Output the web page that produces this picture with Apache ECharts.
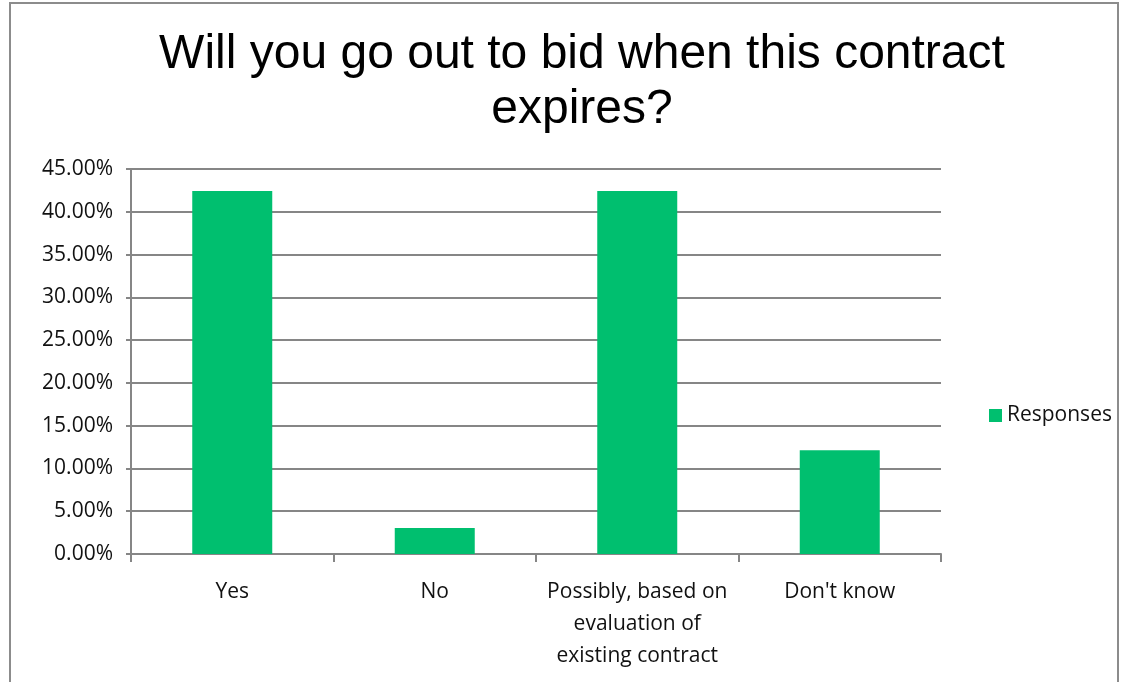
<!DOCTYPE html>
<html>
<head>
<meta charset="utf-8">
<script src="https://cdn.jsdelivr.net/npm/echarts@6/dist/echarts.min.js"></script>
<style>
  html, body { margin: 0; padding: 0; background: #fff; }
  #chart { width: 1127px; height: 682px; }
</style>
</head>
<body>
<div id="chart"></div>
<script>
var myChart = echarts.init(document.getElementById('chart'));

var categories = ['Yes', 'No', 'Possibly, based on\nevaluation of\nexisting contract', "Don't know"];
var responses = [42.42, 3.03, 42.42, 12.12];
var seriesName = 'Responses';

var option = {
    backgroundColor: '#fff',
    animation: false,
    graphic: [{
        type: 'rect',
        shape: { x: 10, y: 3, width: 1108, height: 690 },
        style: { fill: 'none', stroke: '#8c8c8c', lineWidth: 2 },
        silent: true
    }],
    title: {
        text: 'Will you go out to bid when this contract\nexpires?',
        left: 577,
        top: 22,
        textAlign: 'center',
        textStyle: {
            fontFamily: 'Liberation Sans',
            fontWeight: 'normal',
            fontSize: 48,
            lineHeight: 55,
            color: '#000'
        }
    },
    legend: {
        data: [seriesName],
        orient: 'vertical',
        left: 984,
        top: 400,
        itemWidth: 13,
        itemHeight: 13,
        icon: 'rect',
        itemGap: 8,
        textStyle: { fontFamily: 'Open Sans', fontSize: 21, color: '#111' }
    },
    grid: {
        left: 131,
        right: 186,
        top: 169,
        bottom: 128,
        containLabel: false
    },
    xAxis: {
        type: 'category',
        data: categories,
        axisLine: { lineStyle: { color: '#868686', width: 2 } },
        axisTick: { show: true, length: 8, lineStyle: { color: '#868686', width: 2 } },
        axisLabel: {
            interval: 0,
            margin: 22,
            fontFamily: 'Open Sans',
            fontSize: 21,
            lineHeight: 32,
            color: '#111'
        }
    },
    yAxis: {
        type: 'value',
        min: 0,
        max: 45,
        interval: 5,
        axisLine: { show: true, lineStyle: { color: '#868686', width: 2 } },
        axisTick: { show: true, length: 5, lineStyle: { color: '#868686', width: 2 } },
        splitLine: { lineStyle: { color: '#868686', width: 2 } },
        axisLabel: {
            margin: 18,
            fontFamily: 'Open Sans',
            fontSize: 21,
            color: '#111',
            formatter: function (v) { return v.toFixed(2) + '%'; }
        }
    },
    series: [{
        name: seriesName,
        type: 'bar',
        data: responses,
        barWidth: 80,
        itemStyle: { color: '#00BF6F' }
    }]
};

myChart.setOption(option);
</script>
</body>
</html>
